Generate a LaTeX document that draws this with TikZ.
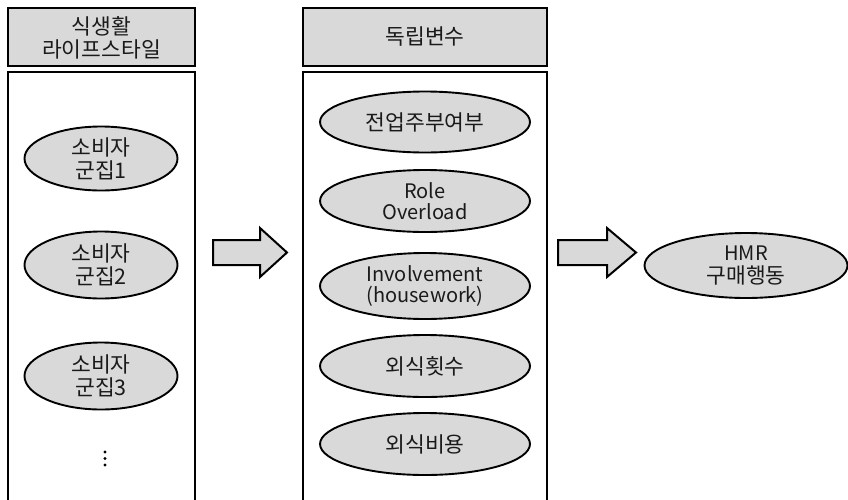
\documentclass[tikz,border=0pt]{standalone}
\usepackage{fontspec}
\setmainfont{Noto Sans CJK KR}
\usetikzlibrary{shapes.geometric}
\definecolor{boxgray}{HTML}{D9D9D9}
\definecolor{txt}{HTML}{1A1A1A}
\tikzset{
  titlebox/.style={draw=black,line width=2.6pt,fill=boxgray},
  panel/.style={draw=black,line width=2.2pt},
  oval/.style={ellipse,draw=black,line width=1.9pt,fill=boxgray,inner sep=0pt,
    align=center,text=txt,font=\fontsize{21.5}{23}\selectfont},
  latin/.style={font=\fontsize{20}{21.5}\selectfont},
  label/.style={align=center,text=txt,font=\fontsize{21.5}{23}\selectfont,inner sep=0pt},
  blockarrow/.style={draw=black,line width=2pt,fill=boxgray,line join=miter},
  dotmark/.style={fill=black,draw=none}
}
\begin{document}
\begin{tikzpicture}[x=1pt,y=-1pt]
\useasboundingbox (0,0) rectangle (848,499);
\clip (0,0) rectangle (848,499);
\fill[white] (0,0) rectangle (848,499);
% title boxes
\draw[titlebox] (8,8) rectangle (195,66);
\node[label] (t1) at (101.5,38) {식생활\\라이프스타일};
\draw[titlebox] (303,8) rectangle (547,66);
\node[label] (t2) at (425,37) {독립변수};
% panels
\draw[panel] (8,72) rectangle (195,520);
\draw[panel] (303,72) rectangle (547,520);
% left ovals
\node[oval,minimum width=153pt,minimum height=64pt] (c1) at (101,158.5) {소비자\\군집1};
\node[oval,minimum width=153pt,minimum height=67pt] (c2) at (101,265) {소비자\\군집2};
\node[oval,minimum width=153pt,minimum height=67pt] (c3) at (101,376) {소비자\\군집3};
\fill[dotmark] (105,452) circle (1.6pt) (105,458.5) circle (1.6pt) (105,465) circle (1.6pt);
% middle ovals
\node[oval,minimum width=210pt,minimum height=61pt] (v1) at (425,122) {전업주부여부};
\node[oval,latin,minimum width=210pt,minimum height=62pt] (v2) at (425,201) {Role\\Overload};
\node[oval,latin,minimum width=210pt,minimum height=66pt] (v3) at (425,286) {Involvement\\(housework)};
\node[oval,minimum width=210pt,minimum height=62pt] (v4) at (425,366) {외식횟수};
\node[oval,minimum width=210pt,minimum height=62pt] (v5) at (425,444) {외식비용};
% result
\node[oval,minimum width=203pt,minimum height=65pt] (hmr) at (746,265.5) {{\fontsize{20}{21}\selectfont HMR}\\구매행동};
% block arrows
\draw[blockarrow] (213,240) -- (260,240) -- (260,228) -- (287,252.5) -- (260,277) -- (260,265) -- (213,265) -- cycle;
\draw[blockarrow] (558,240) -- (607,240) -- (607,228) -- (636,252.5) -- (607,277) -- (607,265) -- (558,265) -- cycle;
\end{tikzpicture}
\end{document}
